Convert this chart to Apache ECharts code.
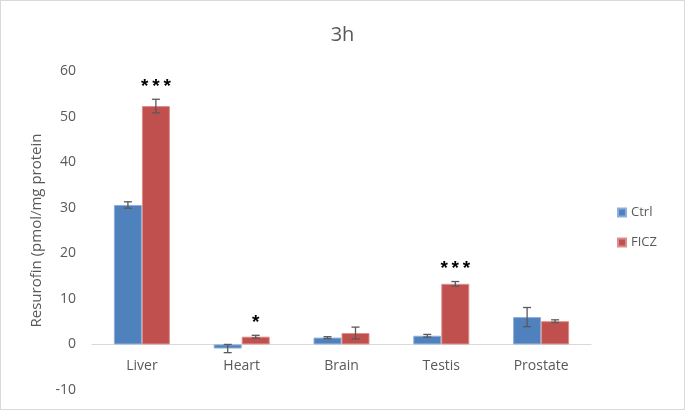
<!DOCTYPE html>
<html><head><meta charset="utf-8">
<script src="https://cdn.jsdelivr.net/npm/echarts@6/dist/echarts.min.js"></script>
<style>html,body{margin:0;padding:0;background:#fff}#c{width:683px;height:408px;border:1px solid #d9d9d9}</style>
</head><body><div id="c"></div>
<script>
const categories = ['Liver','Heart','Brain','Testis','Prostate'];
const ctrl = [30.6, -0.9, 1.5, 1.9, 6.0];
const ctrlErr = [0.7, 0.9, 0.2, 0.3, 2.1];
const ficz = [52.3, 1.7, 2.5, 13.3, 5.1];
const ficzErr = [1.5, 0.3, 1.3, 0.5, 0.3];
const ficzSig = ['***', '*', '', '***', ''];
const yTicks = [-10, 0, 10, 20, 30, 40, 50, 60];

const BW = 28;
const txt = '#595959';
const font = '"Open Sans", "Liberation Sans", sans-serif';
function errSeries(vals, errs, off, sig) {
  return {
    type: 'custom', silent: true, z: 10,
    data: vals.map((v, i) => [i, v, errs[i]]),
    renderItem: function (params, api) {
      const i = api.value(0), v = api.value(1), e = api.value(2);
      const s = sig ? sig[i] : '';
      const hi = api.coord([i, v + e]), lo = api.coord([i, v - e]);
      const x = hi[0] + off, cap = 4;
      const st = { stroke: '#595959', lineWidth: 1.3 };
      const children = [
        { type: 'line', shape: { x1: x, y1: hi[1], x2: x, y2: lo[1] }, style: st },
        { type: 'line', shape: { x1: x - cap, y1: hi[1], x2: x + cap, y2: hi[1] }, style: st },
        { type: 'line', shape: { x1: x - cap, y1: lo[1], x2: x + cap, y2: lo[1] }, style: st }
      ];
      if (s) children.push({ type: 'text', style: { text: s.split('').join('\u2009'), x: x, y: hi[1] - 3, align: 'center', verticalAlign: 'bottom', fill: '#000', font: 'bold 19px "Liberation Sans", sans-serif' } });
      return { type: 'group', children: children };
    }
  };
}
const chart = echarts.init(document.getElementById('c'));
chart.setOption({
  animation: false,
  title: { text: '3h', left: 'center', top: 19, textStyle: { color: txt, fontSize: 20, fontWeight: 'normal', fontFamily: font } },
  legend: {
    orient: 'vertical', right: 22, top: 200, itemWidth: 8, itemHeight: 8, itemGap: 17,
    icon: 'rect', data: ['Ctrl', 'FICZ'],
    textStyle: { color: txt, fontSize: 13, fontFamily: font }
  },
  grid: { left: 91, right: 93, top: 70, bottom: 19, outerBoundsMode: 'none' },
  xAxis: {
    type: 'category', data: categories,
    axisLine: { onZero: true, lineStyle: { color: '#d9d9d9' } },
    axisTick: { show: false },
    axisLabel: { color: txt, fontSize: 14, fontFamily: font, margin: -31 }
  },
  yAxis: {
    type: 'value', min: yTicks[0], max: yTicks[yTicks.length - 1], interval: 10,
    splitLine: { show: false }, axisLine: { show: false }, axisTick: { show: false },
    axisLabel: { color: txt, fontSize: 14, fontFamily: font, margin: 16 },
    name: 'Resurofin (pmol/mg protein', nameLocation: 'middle', nameGap: 46,
    nameTextStyle: { color: txt, fontSize: 15, fontFamily: font }
  },
  series: [
    { name: 'Ctrl', type: 'bar', data: ctrl, barWidth: BW, barGap: '0%', itemStyle: { color: '#4f81bd', borderColor: '#8eaedb', borderWidth: 1 } },
    { name: 'FICZ', type: 'bar', data: ficz, barWidth: BW, itemStyle: { color: '#c0504d', borderColor: '#dc8e8c', borderWidth: 1 } },
    errSeries(ctrl, ctrlErr, -BW / 2, null),
    errSeries(ficz, ficzErr, BW / 2, ficzSig)
  ]
});
</script></body></html>
